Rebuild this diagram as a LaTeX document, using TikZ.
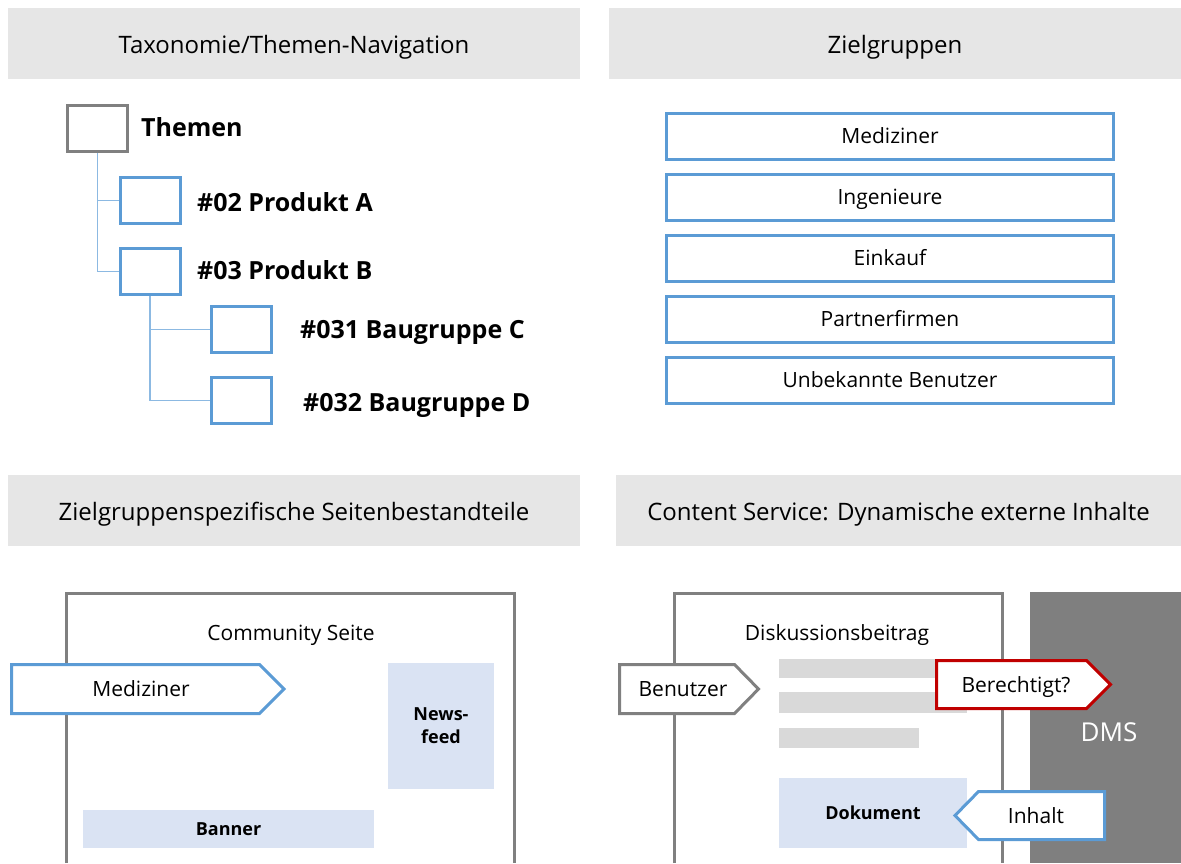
\documentclass[tikz,border=0pt]{standalone}
\usepackage{fontspec}
\setmainfont{Open Sans}
\usetikzlibrary{positioning}
\definecolor{hdrgray}{HTML}{E6E6E6}
\definecolor{boxblue}{HTML}{5B9BD5}
\definecolor{paleblue}{HTML}{DAE3F3}
\definecolor{bargray}{HTML}{D9D9D9}
\definecolor{dmsgray}{HTML}{7F7F7F}
\definecolor{framegray}{HTML}{808080}
\definecolor{alertred}{HTML}{C00000}

\begin{document}
\begin{tikzpicture}[x=1pt,y=-1pt,
    header/.style={fill=hdrgray,minimum width=572pt,minimum height=71pt,
      text height=26pt,text depth=6pt,font=\fontsize{24}{28}\selectfont},
    topic/.style={draw=boxblue,line width=3pt,minimum width=60pt,minimum height=46pt},
    topiclbl/.style={anchor=mid west,inner sep=0pt,yshift=-6pt,
      font=\fontsize{25}{30}\selectfont\bfseries},
    group/.style={draw=boxblue,line width=3pt,minimum width=447pt,minimum height=46pt,
      text height=20pt,text depth=5.25pt,font=\fontsize{21}{25}\selectfont},
    link/.style={boxblue!70,line width=1.2pt},
    page/.style={framegray,line width=3pt},
    tagline/.style={line width=3pt,fill=white,line join=miter},
    lbl/.style={inner sep=0pt,anchor=mid,yshift=-4.5pt,font=\fontsize{21}{25}\selectfont},
    block/.style={fill=paleblue,inner sep=0pt,align=center,
      font=\fontsize{18}{23}\selectfont\bfseries}]
  \useasboundingbox (0,0) rectangle (1181,863);

  % headers
  \node[header] (taxhdr) at (294,43.5) {Taxonomie/Themen-Navigation};
  \node[header] (grphdr) at (895,43.5) {Zielgruppen};
  \node[header] (parthdr) at (294,510) {Zielgruppenspezifische Seitenbestandteile};
  \node[header,minimum width=565pt] (cshdr) at (898.5,510) {Content Service: Dynamische externe Inhalte};

  % topic tree
  \node[topic,draw=framegray] (themen) at (97.5,128.5) {};
  \node[topic] (prodA) at (150,200.5) {};
  \node[topic] (prodB) at (150,271.5) {};
  \node[topic] (bgC) at (241.5,329.5) {};
  \node[topic] (bgD) at (241.5,400.5) {};
  \draw[link] (themen.south) |- (prodA.west);
  \draw[link] (themen.south) |- (prodB.west);
  \draw[link] (prodB.south) |- (bgC.west);
  \draw[link] (prodB.south) |- (bgD.west);
  \node[topiclbl] (themenlbl) at (141,128) {Themen};
  \node[topiclbl] (prodAlbl) at (197,203) {\#02 Produkt A};
  \node[topiclbl] (prodBlbl) at (197,271) {\#03 Produkt B};
  \node[topiclbl] (bgClbl) at (300,330) {\#031 Baugruppe C};
  \node[topiclbl] (bgDlbl) at (303,403) {\#032 Baugruppe D};

  % target groups
  \foreach \name [count=\i from 0] in {Mediziner,Ingenieure,Einkauf,Partnerfirmen,Unbekannte Benutzer}
    \node[group] (grp\i) at (890,136.5+61*\i) {\name};

  % community page
  \draw[page] (66,863) |- (514,593) -- (514,863);
  \node[lbl] (commlbl) at (291,633) {Community Seite};
  \node[block,minimum width=106pt,minimum height=126pt] (newsfeed) at (441,726) {News-\\feed};
  \node[block,minimum width=291pt,minimum height=38pt] (banner) at (228.5,829) {Banner};
  \draw[tagline,draw=boxblue] (11.5,664.5) -- (259.5,664.5) -- (284,689) -- (259.5,713.5) -- (11.5,713.5) -- cycle;
  \node[lbl] (medtag) at (141,689) {Mediziner};

  % discussion post and DMS
  \draw[page] (674,863) |- (1002,593) -- (1002,863);
  \node[lbl] (disklbl) at (837,633) {Diskussionsbeitrag};
  \fill[bargray] (779,659) rectangle (967,678);
  \fill[bargray] (779,692) rectangle (967,713);
  \fill[bargray] (779,728) rectangle (919,748);
  \fill[dmsgray] (1030,592) rectangle (1181,863);
  \node[lbl,text=white,font=\fontsize{26}{30}\selectfont] (dms) at (1109,734) {DMS};
  \draw[tagline,draw=framegray] (619.5,664.5) -- (734.5,664.5) -- (758.5,689) -- (734.5,713.5) -- (619.5,713.5) -- cycle;
  \node[lbl] (usertag) at (683,689) {Benutzer};
  \draw[tagline,draw=alertred] (936.5,660.5) -- (1086.5,660.5) -- (1110.5,684.5) -- (1086.5,708.5) -- (936.5,708.5) -- cycle;
  \node[lbl] (authtag) at (1016,685) {Berechtigt?};
  \node[block,minimum width=188pt,minimum height=70pt] (doc) at (873,813) {Dokument};
  \draw[tagline,draw=boxblue] (1104.5,791.5) -- (978.5,791.5) -- (955,815.5) -- (978.5,839.5) -- (1104.5,839.5) -- cycle;
  \node[lbl] (contenttag) at (1036,816) {Inhalt};
\end{tikzpicture}
\end{document}
